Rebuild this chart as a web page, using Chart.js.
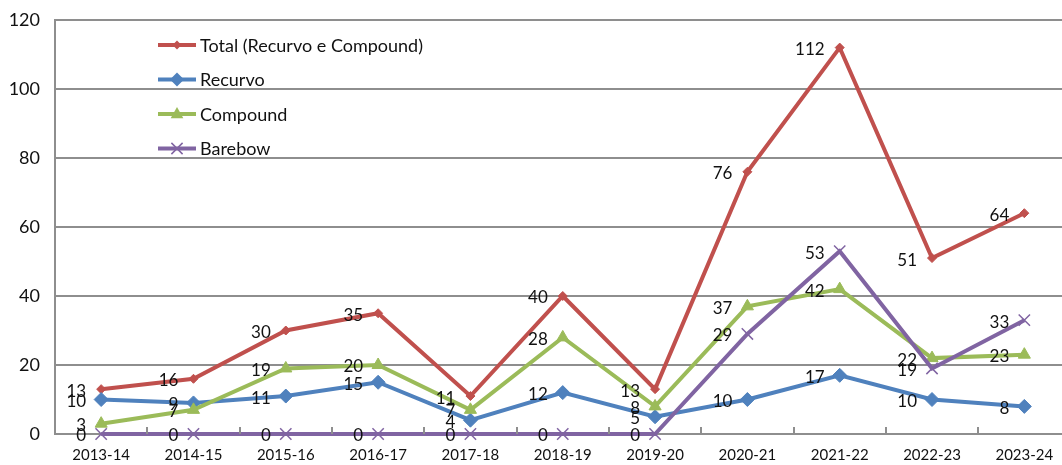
<!DOCTYPE html>
<html lang="pt">
<head>
<meta charset="UTF-8">
<title>Arqueiros por época</title>
<script src="https://cdn.jsdelivr.net/npm/chart.js"></script>
<style>
    html, body { margin: 0; padding: 0; background: #fff; overflow: hidden; }
    #wrap { width: 1080px; height: 465px; position: relative; }
</style>
</head>
<body>
<div id="wrap"><canvas id="myChart" width="1080" height="465"></canvas></div>
<script>
const seasons = ['2013-14', '2014-15', '2015-16', '2016-17', '2017-18', '2018-19', '2019-20', '2020-21', '2021-22', '2022-23', '2023-24'];
const total = [13, 16, 30, 35, 11, 40, 13, 76, 112, 51, 64];
const recurvo = [10, 9, 11, 15, 4, 12, 5, 10, 17, 10, 8];
const compound = [3, 7, 19, 20, 7, 28, 8, 37, 42, 22, 23];
const barebow = [0, 0, 0, 0, 0, 0, 0, 29, 53, 19, 33];
const yTicks = [0, 20, 40, 60, 80, 100, 120];

const FONT = 'Lato, "Open Sans", sans-serif';

const series = [
    { label: 'Total (Recurvo e Compound)', data: total, color: '#C0504D', style: 'rectRot', radius: 4.5, bw: 1, order: 3 },
    { label: 'Recurvo', data: recurvo, color: '#4F81BD', style: 'rectRot', radius: 7, bw: 1, order: 2 },
    { label: 'Compound', data: compound, color: '#9BBB59', style: 'triangle', radius: 7, bw: 1, order: 1 },
    { label: 'Barebow', data: barebow, color: '#8064A2', style: 'crossRot', radius: 8, bw: 1.5, order: 0 }
];

// value labels, left of each point
const valueLabels = {
    id: 'valueLabels',
    afterDatasetsDraw(chart) {
        const ctx = chart.ctx;
        ctx.save();
        ctx.font = '17px ' + FONT;
        ctx.fillStyle = '#111';
        ctx.textAlign = 'right';
        ctx.textBaseline = 'middle';
        chart.data.datasets.forEach((ds, i) => {
            chart.getDatasetMeta(i).data.forEach((pt, j) => {
                ctx.fillText(String(ds.data[j]), pt.x - 15, pt.y + 2);
            });
        });
        ctx.restore();
    }
};

// little tick marks between categories, pointing up into the plot
const innerTicks = {
    id: 'innerTicks',
    afterDraw(chart) {
        const { ctx, chartArea } = chart;
        const n = seasons.length;
        const w = (chartArea.right - chartArea.left) / n;
        ctx.save();
        ctx.strokeStyle = '#8e8e8e';
        ctx.lineWidth = 2;
        for (let i = 1; i < n; i++) {
            const x = Math.round(chartArea.left + i * w);
            ctx.beginPath();
            ctx.moveTo(x, chartArea.bottom);
            ctx.lineTo(x, chartArea.bottom - 7);
            ctx.stroke();
        }
        ctx.restore();
    }
};

function drawMarker(ctx, s, x, y) {
    const r = s.radius;
    ctx.fillStyle = s.color;
    ctx.strokeStyle = s.color;
    ctx.beginPath();
    if (s.style === 'rectRot') {
        ctx.moveTo(x, y - r); ctx.lineTo(x + r, y); ctx.lineTo(x, y + r); ctx.lineTo(x - r, y);
        ctx.closePath(); ctx.fill();
    } else if (s.style === 'triangle') {
        ctx.moveTo(x, y - r); ctx.lineTo(x + r * 0.9, y + r * 0.6); ctx.lineTo(x - r * 0.9, y + r * 0.6);
        ctx.closePath(); ctx.fill();
    } else {
        ctx.lineWidth = s.bw;
        const d = r * 0.7;
        ctx.moveTo(x - d, y - d); ctx.lineTo(x + d, y + d);
        ctx.moveTo(x + d, y - d); ctx.lineTo(x - d, y + d);
        ctx.stroke();
    }
}

// legend inside the plot, top left
const insideLegend = {
    id: 'insideLegend',
    afterDraw(chart) {
        const ctx = chart.ctx;
        ctx.save();
        ctx.font = '18px ' + FONT;
        ctx.textBaseline = 'middle';
        ctx.textAlign = 'left';
        series.forEach((s, i) => {
            const y = 45 + i * 34.5;
            ctx.strokeStyle = s.color;
            ctx.lineWidth = 4;
            ctx.beginPath();
            ctx.moveTo(158, y);
            ctx.lineTo(196, y);
            ctx.stroke();
            drawMarker(ctx, s, 177, y);
            ctx.fillStyle = '#111';
            ctx.fillText(s.label, 200, y + 1);
        });
        ctx.restore();
    }
};

const chart = new Chart('myChart', {
    type: 'line',
    data: {
        labels: seasons,
        datasets: series.map(s => ({
            label: s.label,
            data: s.data,
            borderColor: s.color,
            backgroundColor: s.color,
            borderWidth: 4,
            pointStyle: s.style,
            pointRadius: s.radius,
            pointBorderWidth: s.bw,
            pointBorderColor: s.color,
            pointBackgroundColor: s.color,
            tension: 0,
            clip: false,
            order: s.order
        }))
    },
    options: {
        responsive: false,
        animation: false,
        devicePixelRatio: 1,
        layout: { padding: { top: 20, right: 8, left: 0, bottom: 0 } },
        plugins: {
            legend: { display: false },
            tooltip: { enabled: false }
        },
        scales: {
            x: {
                offset: true,
                grid: { display: false, drawTicks: false },
                border: { display: true, color: '#8e8e8e', width: 2 },
                ticks: { color: '#111', font: { family: FONT, size: 15 }, padding: 12, maxRotation: 0, autoSkip: false },
                afterFit(scale) { scale.height = 31; scale.paddingLeft = 0; scale.paddingRight = 0; }
            },
            y: {
                min: 0,
                max: 120,
                afterBuildTicks(scale) { scale.ticks = yTicks.map(v => ({ value: v })); },
                grid: { color: '#8e8e8e', lineWidth: 2, drawTicks: false },
                border: { display: true, color: '#8e8e8e', width: 2 },
                ticks: { color: '#111', font: { family: FONT, size: 18 }, padding: 15 },
                afterFit(scale) { scale.width = 55; scale.paddingTop = 0; scale.paddingBottom = 0; }
            }
        }
    },
    plugins: [innerTicks, valueLabels, insideLegend]
});
</script>
</body>
</html>
